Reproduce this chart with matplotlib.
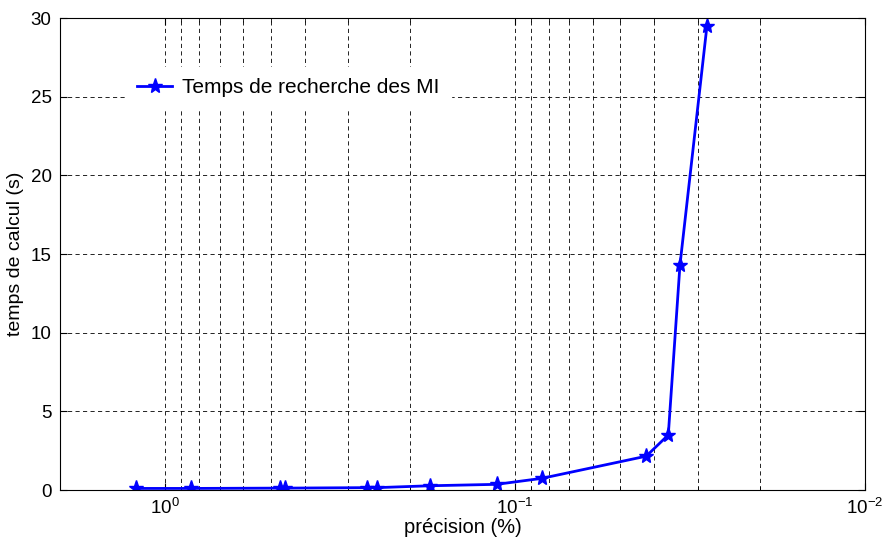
import numpy as np
import matplotlib
matplotlib.use("Agg")
import matplotlib.pyplot as plt
from matplotlib.ticker import FixedLocator, NullFormatter, LogFormatterMathtext

plt.rcParams['font.family'] = ['Liberation Sans', 'DejaVu Sans']
plt.rcParams['mathtext.fontset'] = 'custom'
plt.rcParams['mathtext.rm'] = 'Liberation Sans'

# data
precision = [1.212, 0.843, 0.471, 0.454, 0.265, 0.248, 0.175, 0.113,
             0.0839, 0.0422, 0.0365, 0.0338, 0.0283]
temps = [0.1, 0.1, 0.12, 0.12, 0.15, 0.15, 0.27, 0.36,
         0.74, 2.15, 3.5, 14.3, 29.5]
label = "Temps de recherche des MI"

major_x = [1.0, 0.1, 0.01]
minor_x = [0.9, 0.8, 0.7, 0.6, 0.5, 0.4, 0.3, 0.2,
           0.09, 0.08, 0.07, 0.06, 0.05, 0.04, 0.03, 0.02]
y_ticks = [0, 5, 10, 15, 20, 25, 30]

fig = plt.figure(figsize=(8.85, 5.47), dpi=100)
ax = fig.add_axes([0.0678, 0.1042, 0.9096, 0.8628])

ax.plot(precision, temps, color=(0, 0, 1), linewidth=2, marker='*',
        markersize=11, label=label)

ax.set_xscale('log')
ax.set_xlim(2.0, 0.01)
ax.set_ylim(0, 30)

ax.xaxis.set_major_locator(FixedLocator(major_x))
ax.xaxis.set_minor_locator(FixedLocator(minor_x))
ax.xaxis.set_major_formatter(LogFormatterMathtext())
ax.xaxis.set_minor_formatter(NullFormatter())
ax.set_yticks(y_ticks)

# dashed grid, matlab style
ax.grid(True, which='both', axis='x', color='k', linewidth=0.6,
        linestyle=(0, (5, 4)))
ax.grid(True, which='major', axis='y', color='k', linewidth=0.6,
        linestyle=(0, (5, 4)))

ax.tick_params(which='both', direction='in', top=True, right=True)
ax.tick_params(which='major', length=5, labelsize=13.5, pad=6)
ax.tick_params(which='minor', length=3)
for s in ax.spines.values():
    s.set_linewidth(0.8)

ax.set_xlabel("précision (%)", fontsize=14.5, labelpad=0)
ax.set_ylabel("temps de calcul (s)", fontsize=14, labelpad=5)

leg = ax.legend(loc='center left', bbox_to_anchor=(0.0814, 0.852), fontsize=15,
                frameon=True, fancybox=False, edgecolor='white',
                framealpha=1, handlelength=1.7, handletextpad=0.45,
                borderpad=0.55, borderaxespad=0)

fig.savefig("out.png", dpi=100)
